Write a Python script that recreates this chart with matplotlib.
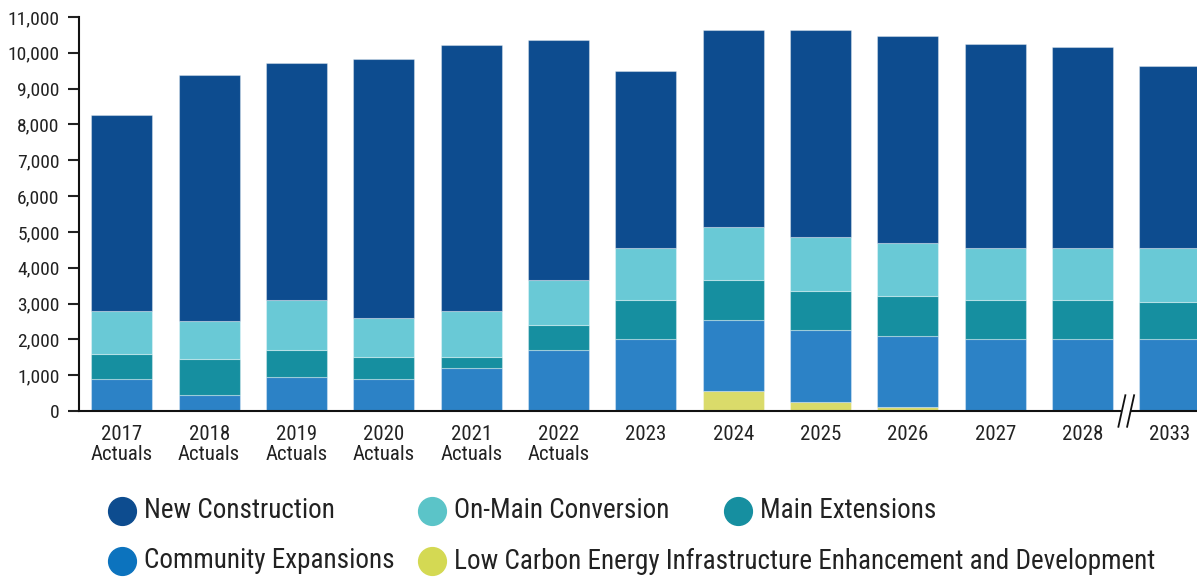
import numpy as np
import matplotlib
matplotlib.use("Agg")
import matplotlib.pyplot as plt
from matplotlib import font_manager as fm
from matplotlib.lines import Line2D
from matplotlib.patches import Rectangle
import matplotlib.transforms as mtransforms

years = ["2017\nActuals", "2018\nActuals", "2019\nActuals", "2020\nActuals",
         "2021\nActuals", "2022\nActuals", "2023", "2024", "2025", "2026",
         "2027", "2028", "2033"]

low_carbon = [0, 0, 0, 0, 0, 0, 0, 550, 250, 100, 0, 0, 0]
community = [900, 450, 950, 900, 1200, 1700, 2000, 2000, 2000, 2000, 2000, 2000, 2000]
main_ext = [700, 1000, 750, 600, 300, 700, 1100, 1100, 1100, 1100, 1100, 1100, 1050]
on_main = [1200, 1050, 1400, 1100, 1300, 1250, 1450, 1500, 1500, 1500, 1450, 1450, 1500]
new_constr = [5450, 6880, 6620, 7220, 7420, 6710, 4930, 5500, 5800, 5770, 5710, 5610, 5070]

series = [
    ("Low Carbon Energy Infrastructure Enhancement and Development", low_carbon, "#dadb6a", "#d4d953"),
    ("Community Expansions", community, "#2c82c6", "#0c73be"),
    ("Main Extensions", main_ext, "#168fa0", "#168fa0"),
    ("On-Main Conversion", on_main, "#69c9d6", "#5bc4c8"),
    ("New Construction", new_constr, "#0d4c8f", "#0d4c8f"),
]


def pick_narrow_font():
    # look for a condensed / narrow sans, fall back to Roboto
    prefs = ["Roboto Condensed", "Liberation Sans Narrow", "Open Sans Condensed",
             "Noto Sans", "Open Sans", "Roboto", "DejaVu Sans"]
    best = None
    for f in fm.fontManager.ttflist:
        narrow = ("condensed" in str(f.stretch).lower() or "Narrow" in f.name
                  or "Condensed" in f.name)
        if not narrow or f.style != "normal" or f.weight not in (400, "normal", "regular"):
            continue
        rank = next((i for i, p in enumerate(prefs) if f.name.startswith(p)), 99)
        if "semi" in str(f.stretch).lower():
            rank += 0.5
        if best is None or rank < best[0]:
            best = (rank, f.name, f.stretch)
    if best is None:
        return "Roboto", "normal", False
    return best[1], best[2], True


def main():
    name, stretch, narrow = pick_narrow_font()
    plt.rcParams["font.family"] = [name, "DejaVu Sans"]
    plt.rcParams["font.stretch"] = stretch
    ytick_fs = 14 if narrow else 12
    xtick_fs = 15 if narrow else 12.5
    leg_fs = 19.5 if narrow else 17

    fig = plt.figure(figsize=(11.97, 5.77), dpi=100)
    ax = fig.add_axes([79 / 1197, 1 - 411 / 577, 1 - 79 / 1197, (411 - 17) / 577])

    x = np.arange(len(years))
    bottom = np.zeros(len(years))
    for label, vals, color, _ in series:
        vals = np.array(vals, dtype=float)
        ax.bar(x, vals, bottom=bottom, width=0.70, color=color,
               edgecolor=(1, 1, 1, 0.35), linewidth=0.8)
        bottom += vals

    ax.set_xlim(-0.49, 12.31)
    ax.set_ylim(0, 11000)
    ax.set_yticks(np.arange(0, 11001, 1000))
    ax.set_yticklabels([f"{v:,}" for v in range(0, 11001, 1000)])
    ax.set_xticks(x)
    ax.set_xticklabels(years, linespacing=1.1)
    ax.tick_params(axis="y", length=8, width=1.5, pad=6, labelsize=ytick_fs, colors="#222222")
    ax.tick_params(axis="x", length=0, pad=10, labelsize=xtick_fs, colors="#222222")
    for s in ["top", "right"]:
        ax.spines[s].set_visible(False)
    for s in ["left", "bottom"]:
        ax.spines[s].set_linewidth(1.5)
        ax.spines[s].set_color("#111111")

    # axis break between 2028 and 2033
    trans = mtransforms.blended_transform_factory(ax.transData, ax.transAxes)
    ax.add_patch(Rectangle((11.44, -0.02), 0.12, 0.04, transform=trans,
                           facecolor="white", edgecolor="none", clip_on=False, zorder=5))
    for dx in (-0.05, 0.05):
        ax.plot([11.5 + dx - 0.04, 11.5 + dx + 0.04], [-0.04, 0.04], transform=trans,
                color="#111111", lw=1.3, clip_on=False, zorder=6)

    # legend drawn by hand
    entries = [
        ("New Construction", "#0d4c8f", 122, 511),
        ("On-Main Conversion", "#5bc4c8", 432, 511),
        ("Main Extensions", "#168fa0", 738, 511),
        ("Community Expansions", "#0c73be", 122, 561),
        ("Low Carbon Energy Infrastructure Enhancement and Development", "#d4d953", 432, 561),
    ]
    for label, color, px, py in entries:
        fig.add_artist(Line2D([px / 1197], [1 - py / 577], marker="o", markersize=20,
                              color=color, linestyle="none", transform=fig.transFigure))
        fig.text((px + 22) / 1197, 1 - py / 577, label, fontsize=leg_fs, va="center",
                 ha="left", color="#222222")

    fig.text(1172 / 1197, 1 + 6 / 577, "g", fontsize=20, family="DejaVu Serif",
             va="baseline", ha="center", color="#222222")

    fig.savefig("out.png", dpi=100)


if __name__ == "__main__":
    main()
